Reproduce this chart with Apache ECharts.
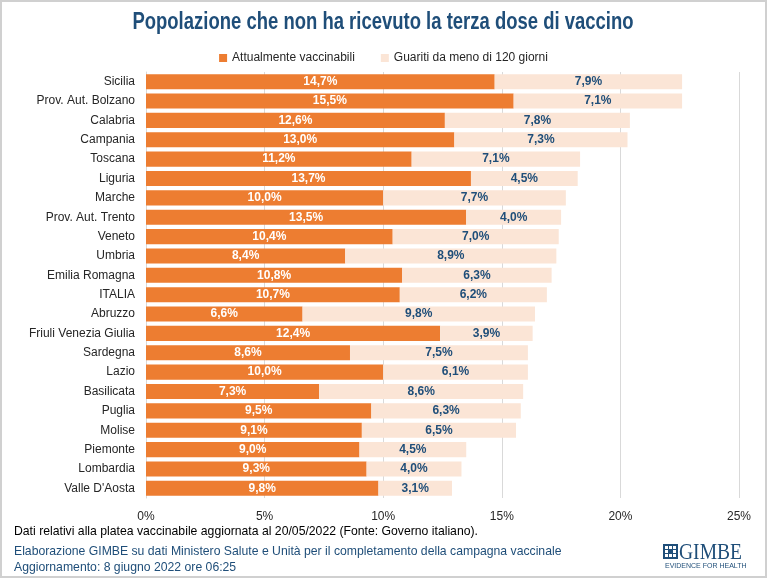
<!DOCTYPE html>
<html>
<head>
<meta charset="utf-8">
<script src="https://cdn.jsdelivr.net/npm/echarts@6/dist/echarts.min.js"></script>
<style>
  html, body { margin: 0; padding: 0; background: #fff; }
  #chart { width: 767px; height: 578px; box-sizing: border-box; border: 2px solid #d0d0d0; }
</style>
</head>
<body>
<div id="chart"></div>
<script>
// Regioni (dall'alto verso il basso)
const regioni = [
  'Sicilia', 'Prov. Aut. Bolzano', 'Calabria', 'Campania', 'Toscana', 'Liguria',
  'Marche', 'Prov. Aut. Trento', 'Veneto', 'Umbria', 'Emilia Romagna', 'ITALIA',
  'Abruzzo', 'Friuli Venezia Giulia', 'Sardegna', 'Lazio', 'Basilicata', 'Puglia',
  'Molise', 'Piemonte', 'Lombardia', "Valle D'Aosta"
]

// Attualmente vaccinabili (%)
const vaccinabili = [14.7, 15.5, 12.6, 13.0, 11.2, 13.7, 10.0, 13.5, 10.4, 8.4, 10.8, 10.7,
  6.6, 12.4, 8.6, 10.0, 7.3, 9.5, 9.1, 9.0, 9.3, 9.8]

// Guariti da meno di 120 giorni (%)
const guariti = [7.9, 7.1, 7.8, 7.3, 7.1, 4.5, 7.7, 4.0, 7.0, 8.9, 6.3, 6.2,
  9.8, 3.9, 7.5, 6.1, 8.6, 6.3, 6.5, 4.5, 4.0, 3.1]

// Tick asse x
const ticks = [0, 5, 10, 15, 20, 25]

const FONT = "'Liberation Sans', sans-serif"
const BLU = '#1f4e79'

const fmt = v => v.toFixed(1).replace('.', ',') + '%'

const chart = echarts.init(document.getElementById('chart'))

const option = {
  animation: false,
  textStyle: { fontFamily: FONT },
  legend: {
    top: 45,
    left: 'center',
    itemWidth: 8,
    itemHeight: 8,
    itemGap: 26,
    icon: 'rect',
    textStyle: { fontFamily: FONT, fontSize: 12, color: '#262626' },
    data: ['Attualmente vaccinabili', 'Guariti da meno di 120 giorni']
  },
  grid: { left: 144, right: 26, top: 70, bottom: 78, containLabel: false },
  xAxis: {
    type: 'value',
    min: ticks[0],
    max: ticks[ticks.length - 1],
    interval: 5,
    axisLine: { show: false },
    axisTick: { show: false },
    axisLabel: {
      formatter: v => v + '%',
      fontFamily: FONT, fontSize: 12, color: '#262626', margin: 13
    },
    splitLine: { show: true, lineStyle: { color: '#d9d9d9', width: 1 } }
  },
  yAxis: {
    type: 'category',
    inverse: true,
    data: regioni,
    axisLine: { show: true, lineStyle: { color: '#d9d9d9' } },
    axisTick: { show: false },
    axisLabel: { fontFamily: FONT, fontSize: 12, color: '#262626', margin: 11 }
  },
  series: [
    {
      name: 'Attualmente vaccinabili',
      type: 'bar',
      stack: 'tot',
      barWidth: '78%',
      itemStyle: { color: '#ed7d31' },
      label: {
        show: true,
        position: 'inside',
        formatter: p => fmt(p.value),
        fontFamily: FONT, fontSize: 12, fontWeight: 'bold', color: '#fff'
      },
      data: vaccinabili
    },
    {
      name: 'Guariti da meno di 120 giorni',
      type: 'bar',
      stack: 'tot',
      barWidth: '78%',
      itemStyle: { color: '#fbe5d6' },
      label: {
        show: true,
        position: 'inside',
        formatter: p => fmt(p.value),
        fontFamily: FONT, fontSize: 12, fontWeight: 'bold', color: BLU
      },
      data: guariti
    }
  ],
  graphic: [
    // titolo (compresso per imitare un font stretto)
    {
      type: 'text', x: 381, y: 8, scaleX: 0.77,
      style: { text: 'Popolazione che non ha ricevuto la terza dose di vaccino',
        textAlign: 'center', font: 'bold 24px ' + FONT, fill: BLU }
    },
    {
      type: 'text', x: 12, y: 523, scaleX: 0.94,
      style: { text: 'Dati relativi alla platea vaccinabile aggiornata al 20/05/2022 (Fonte: Governo italiano).',
        font: '13px ' + FONT, fill: '#000' }
    },
    {
      type: 'text', x: 12, y: 543, scaleX: 0.94,
      style: { text: 'Elaborazione GIMBE su dati Ministero Salute e Unità per il completamento della campagna vaccinale',
        font: '13px ' + FONT, fill: BLU }
    },
    {
      type: 'text', x: 12, y: 559, scaleX: 0.94,
      style: { text: 'Aggiornamento: 8 giugno 2022 ore 06:25',
        font: '13px ' + FONT, fill: BLU }
    },
    // logo GIMBE
    {
      type: 'group', left: 661, top: 539,
      children: [
        { type: 'rect', shape: { x: 0, y: 3, width: 15, height: 15 }, style: { fill: '#1f4e79' } },
        { type: 'rect', shape: { x: 2, y: 5, width: 3, height: 3 }, style: { fill: '#fff' } },
        { type: 'rect', shape: { x: 6, y: 5, width: 3, height: 3 }, style: { fill: '#fff' } },
        { type: 'rect', shape: { x: 10, y: 5, width: 3, height: 3 }, style: { fill: '#fff' } },
        { type: 'rect', shape: { x: 2, y: 9, width: 3, height: 3 }, style: { fill: '#fff' } },
        { type: 'rect', shape: { x: 10, y: 9, width: 3, height: 3 }, style: { fill: '#fff' } },
        { type: 'rect', shape: { x: 2, y: 13, width: 3, height: 3 }, style: { fill: '#fff' } },
        { type: 'rect', shape: { x: 6, y: 13, width: 3, height: 3 }, style: { fill: '#fff' } },
        { type: 'rect', shape: { x: 10, y: 13, width: 3, height: 3 }, style: { fill: '#fff' } },
        { type: 'text', x: 16, y: 0, scaleX: 0.85, style: { text: 'GIMBE', font: '23px "Liberation Serif", serif', fill: '#1f4e79' } },
        { type: 'text', x: 2, y: 22, style: { text: 'EVIDENCE FOR HEALTH', font: '7px ' + FONT, fill: '#1f4e79' } }
      ]
    }
  ]
}

chart.setOption(option)
</script>
</body>
</html>
